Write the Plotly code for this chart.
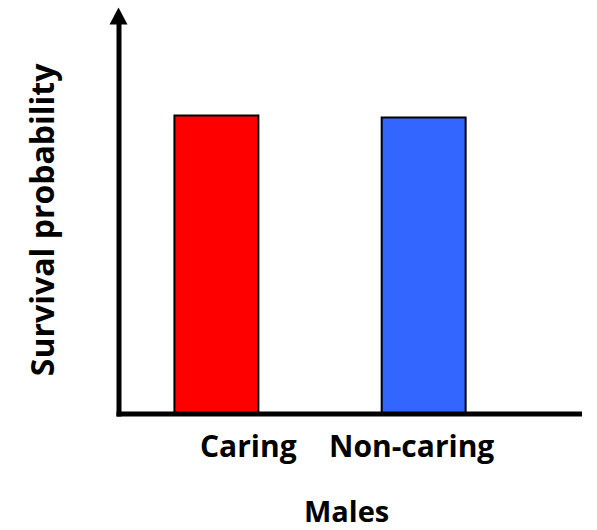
import plotly.graph_objects as go

categories = ["Caring", "Non-caring"]
survival = [0.80, 0.795]
bar_colors = ["#FF0000", "#3366FF"]
x_title = "Males"
y_title = "Survival probability"

FONT = "Open Sans"
FS = 30
fig = go.Figure()
fig.add_trace(go.Bar(
    x=[0, 1], y=survival, width=0.405,
    marker=dict(color=bar_colors, line=dict(color="black", width=2)),
    hoverinfo="skip",
))

# plot area geometry (pixels)
L, R, T, B = 118.5, 15, 41.4, 115.5
W = 597 - L - R
H = 530 - T - B
def px(x): return (x - L) / W
def py(y): return (530 - B - y) / H

shapes = [
    dict(type="line", xref="paper", yref="paper", x0=px(116), x1=px(582), y0=py(414.5), y1=py(414.5),
         line=dict(color="black", width=5)),
    dict(type="line", xref="paper", yref="paper", x0=px(118.5), x1=px(118.5), y0=py(417), y1=py(24),
         line=dict(color="black", width=5)),
    dict(type="path", xref="paper", yref="paper",
         path=f"M {px(109)} {py(25)} L {px(118)} {py(8)} L {px(127)} {py(25)} Z",
         fillcolor="black", line=dict(color="black", width=0)),
]

annotations = []
label_x = [0.157, 0.94]
for c, lx in zip(categories, label_x):
    annotations.append(dict(x=lx, y=py(446), xref="x", yref="paper", text=c, showarrow=False,
                            font=dict(family=FONT, size=FS, color="black", weight="bold"),
                            xanchor="center", yanchor="middle"))
annotations.append(dict(x=px(346), y=py(511), xref="paper", yref="paper", text=x_title, showarrow=False,
                        font=dict(family=FONT, size=29, color="black", weight="bold"),
                        xanchor="center", yanchor="middle", borderpad=0))
annotations.append(dict(x=px(41), y=py(220), xref="paper", yref="paper", text=y_title, showarrow=False,
                        textangle=-90,
                        font=dict(family=FONT, size=32, color="black", weight="bold"),
                        xanchor="center", yanchor="middle"))

fig.update_layout(
    width=597, height=530,
    margin=dict(l=L, r=R, t=T, b=B, pad=0),
    paper_bgcolor="white", plot_bgcolor="white",
    showlegend=False,
    xaxis=dict(range=[-0.47, 1.764], visible=False, fixedrange=True),
    yaxis=dict(range=[0, 1], visible=False, fixedrange=True),
    shapes=shapes, annotations=annotations,
)
fig.write_html("out.html", config={"displayModeBar": False},
               post_script="document.body.style.margin='0';document.body.style.padding='0';")
